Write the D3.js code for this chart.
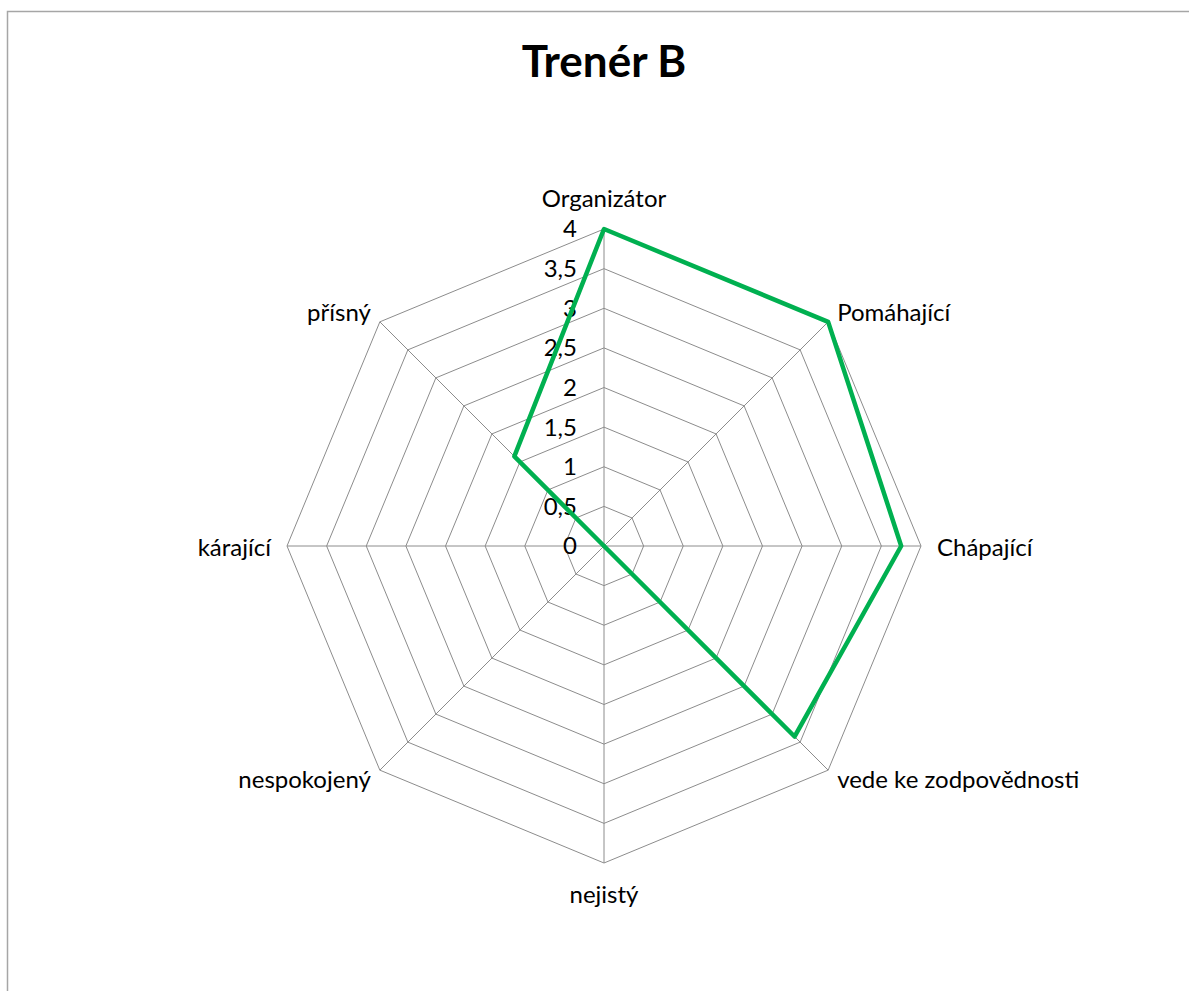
<!DOCTYPE html>
<html>
<head>
<meta charset="utf-8">
<script src="https://cdn.jsdelivr.net/npm/d3@7"></script>
<style>
  body { margin: 0; background: #fff; }
  text { font-family: Lato, "Open Sans", sans-serif; fill: #000; }
</style>
</head>
<body>
<div class="chart"></div>
<script>
// data
let categories = ["Organizátor", "Pomáhající", "Chápající", "vede ke zodpovědnosti",
  "nejistý", "nespokojený", "kárající", "přísný"];
let values = [4, 4, 3.75, 3.4, 0, 0, 0, 1.6];
let tickValues = [0, 0.5, 1, 1.5, 2, 2.5, 3, 3.5, 4];
let tickLabels = ["0", "0,5", "1", "1,5", "2", "2,5", "3", "3,5", "4"];
let chartTitle = "Trenér B";

let svgWidth = 1189;
let svgHeight = 991;
let cx = 604;
let cy = 546;
let outer = 317;

let svg = d3.select(".chart")
  .append("svg")
  .attr("width", svgWidth)
  .attr("height", svgHeight);

// chart area border
svg.append("rect")
  .attr("x", 7.5)
  .attr("y", 11.5)
  .attr("width", 1200)
  .attr("height", 1000)
  .attr("fill", "none")
  .attr("stroke", "#a6a6a6")
  .attr("stroke-width", 1.5);

svg.append("text")
  .attr("x", 604)
  .attr("y", 77)
  .attr("text-anchor", "middle")
  .style("font-size", "44px")
  .style("font-weight", "bold")
  .text(chartTitle);

let r = d3.scaleLinear().domain([0, 4]).range([0, outer]);
let angle = d3.scalePoint()
  .domain(categories)
  .range([0, 2 * Math.PI * (categories.length - 1) / categories.length]);

let g = svg.append("g").attr("transform", `translate(${cx}, ${cy})`);

let pt = (cat, v) => [Math.sin(angle(cat)) * r(v), -Math.cos(angle(cat)) * r(v)];

// grid rings
let line = d3.line().curve(d3.curveLinearClosed);
g.selectAll(".ring")
  .data(tickValues.slice(1))
  .enter()
  .append("path")
  .attr("class", "ring")
  .attr("d", t => line(categories.map(c => pt(c, t))))
  .attr("fill", "none")
  .attr("stroke", "#8c8c8c")
  .attr("stroke-width", 1);

// spokes
g.selectAll(".spoke")
  .data(categories)
  .enter()
  .append("line")
  .attr("class", "spoke")
  .attr("x1", 0).attr("y1", 0)
  .attr("x2", c => pt(c, 4)[0])
  .attr("y2", c => pt(c, 4)[1])
  .attr("stroke", "#8c8c8c")
  .attr("stroke-width", 1);

// tick labels
g.selectAll(".tick")
  .data(tickValues)
  .enter()
  .append("text")
  .attr("class", "tick")
  .attr("x", -27)
  .attr("y", t => -r(t))
  .attr("dy", "0.35em")
  .attr("text-anchor", "end")
  .style("font-size", "24px")
  .text((t, i) => tickLabels[i]);

// series
g.append("path")
  .attr("d", line(categories.map((c, i) => pt(c, values[i]))))
  .attr("fill", "none")
  .attr("stroke", "#00b050")
  .attr("stroke-width", 4.5)
  .attr("stroke-linejoin", "round");

// category labels
g.selectAll(".cat")
  .data(categories)
  .enter()
  .append("text")
  .attr("class", "cat")
  .style("font-size", "24px")
  .attr("text-anchor", c => {
    let s = Math.sin(angle(c));
    return Math.abs(s) < 0.01 ? "middle" : (s > 0 ? "start" : "end");
  })
  .attr("x", c => {
    let s = Math.sin(angle(c));
    if (Math.abs(s) < 0.01) return 0;
    return pt(c, 4)[0] + (Math.abs(s) > 0.99 ? 16 : 9) * Math.sign(s);
  })
  .attr("y", c => {
    let k = -Math.cos(angle(c));
    if (Math.abs(k) > 0.99) return k < 0 ? -r(4) - 30 : r(4) + 32;
    if (Math.abs(k) < 0.01) return 2;
    return pt(c, 4)[1] + 9 * Math.sign(k);
  })
  .attr("dy", "0.35em")
  .text(c => c);
</script>
</body>
</html>
